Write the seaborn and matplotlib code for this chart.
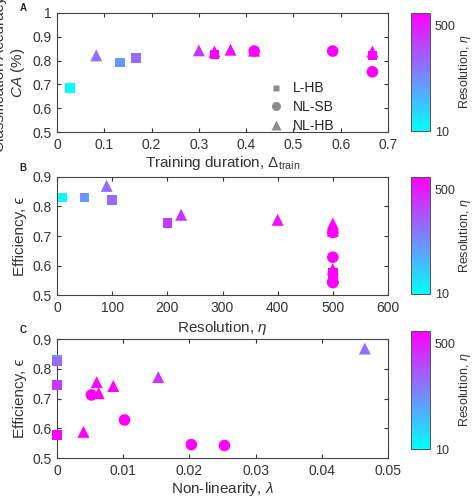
import numpy as np
import pandas as pd
import seaborn as sns
import matplotlib.pyplot as plt
from matplotlib.colors import LogNorm
from matplotlib.cm import ScalarMappable
from matplotlib.lines import Line2D

# panel A: training duration vs classification accuracy
a_type = ['L-HB', 'NL-HB', 'L-HB', 'L-HB', 'NL-HB', 'L-HB', 'NL-HB', 'NL-HB',
          'NL-HB', 'NL-SB', 'NL-SB', 'L-HB', 'NL-HB', 'NL-SB']
a_eta = [10, 90, 50, 100, 225, 500, 500, 400, 500, 500, 500, 500, 500, 500]
a_dur = [0.027, 0.083, 0.133, 0.167, 0.300, 0.333, 0.333, 0.367, 0.417, 0.417,
         0.583, 0.667, 0.667, 0.667]
a_ca = [0.685, 0.822, 0.792, 0.812, 0.843, 0.826, 0.838, 0.846, 0.842, 0.840,
        0.840, 0.822, 0.838, 0.753]

# panel B: resolution vs efficiency
b_type = ['L-HB', 'L-HB', 'NL-HB', 'L-HB', 'L-HB', 'NL-HB', 'NL-HB', 'NL-HB',
          'NL-HB', 'NL-SB', 'NL-SB', 'NL-HB', 'L-HB', 'NL-SB', 'NL-SB']
b_eta = [10, 50, 90, 100, 200, 225, 400, 500, 500, 500, 500, 500, 500, 500, 500]
b_eff = [0.830, 0.830, 0.870, 0.823, 0.745, 0.772, 0.755, 0.742, 0.718, 0.712,
         0.628, 0.588, 0.575, 0.545, 0.542]

# panel C: non-linearity vs efficiency
c_type = ['L-HB', 'L-HB', 'L-HB', 'L-HB', 'L-HB', 'NL-HB', 'NL-HB', 'NL-HB',
          'NL-HB', 'NL-HB', 'NL-HB', 'NL-SB', 'NL-SB', 'NL-SB', 'NL-SB']
c_eta = [10, 50, 100, 200, 500, 500, 400, 500, 500, 225, 90, 500, 500, 500, 500]
c_lam = [0.0, 0.0, 0.0, 0.0, 0.0, 0.0040, 0.0060, 0.0063, 0.0085, 0.0153, 0.0465,
         0.0052, 0.0102, 0.0203, 0.0253]
c_eff = [0.830, 0.830, 0.825, 0.745, 0.577, 0.588, 0.755, 0.718, 0.742, 0.772,
         0.868, 0.712, 0.628, 0.545, 0.542]

sns.set_style('white')
plt.rcParams['font.family'] = ['Liberation Sans', 'DejaVu Sans']
plt.rcParams['mathtext.fontset'] = 'custom'
plt.rcParams['mathtext.it'] = 'Liberation Sans:italic'
plt.rcParams['mathtext.rm'] = 'Liberation Sans'

markers = {'L-HB': 's', 'NL-SB': 'o', 'NL-HB': '^'}
sizes = {'L-HB': 48, 'NL-SB': 70, 'NL-HB': 75}
norm = LogNorm(10, 500)
TXT = '#333333'

W, H = 474, 498
fig = plt.figure(figsize=(W / 100, H / 100), dpi=100)


def px_axes(x0, y0, x1, y1):
    return fig.add_axes([x0 / W, 1 - y1 / H, (x1 - x0) / W, (y1 - y0) / H])


def draw(ax, x, y, types, etas):
    df = pd.DataFrame({'x': x, 'y': y, 'type': types, 'eta': etas})
    # one call per point keeps the drawing order of the original
    for _, row in df.iterrows():
        sns.scatterplot(x=[row['x']], y=[row['y']], ax=ax,
                        color=plt.cm.cool(norm(row['eta'])),
                        marker=markers[row['type']], s=sizes[row['type']],
                        edgecolor='none', legend=False, zorder=3, clip_on=False)


def style(ax):
    for sp in ax.spines.values():
        sp.set_color('#444444')
        sp.set_linewidth(0.8)
    ax.tick_params(direction='in', length=3, labelsize=10, colors=TXT,
                   top=True, right=True, bottom=True, left=True, pad=4)


def cbar(y0, y1):
    cax = px_axes(411, y0, 430, y1)
    sm = ScalarMappable(norm=LogNorm(10, 800), cmap='cool')
    cb = fig.colorbar(sm, cax=cax, ticks=[10, 500])
    cb.ax.set_yticklabels(['10', '500'])
    cb.ax.minorticks_off()
    cb.ax.tick_params(labelsize=9, length=0, colors=TXT)
    cb.outline.set_edgecolor('#555555')
    cb.outline.set_linewidth(0.7)
    fig.text(465 / W, 1 - (y0 + y1) / 2 / H, r'Resolution, $\eta$', rotation=90,
             ha='center', va='center', fontsize=9, color=TXT)


# A
ax1 = px_axes(57, 13, 388, 132)
draw(ax1, a_dur, a_ca, a_type, a_eta)
ax1.set_xlim(0, 0.7)
ax1.set_ylim(0.5, 1.0)
ax1.set_xticks(np.arange(0, 0.71, 0.1))
ax1.set_xticklabels(['0', '0.1', '0.2', '0.3', '0.4', '0.5', '0.6', '0.7'])
ax1.set_yticks([0.5, 0.6, 0.7, 0.8, 0.9, 1.0])
ax1.set_yticklabels(['0.5', '0.6', '0.7', '0.8', '0.9', '1'])
ax1.set_xlabel(r'Training duration, $\Delta_{\mathrm{train}}$', fontsize=11,
               color=TXT, labelpad=2)
ax1.set_ylabel('Classification Accuracy,\n$CA$ (%)', fontsize=11, color=TXT,
               linespacing=1.1)
style(ax1)
handles = [Line2D([], [], marker=markers[k], color='#8c8c8c', linestyle='none',
                  markersize=ms, markeredgecolor='none')
           for k, ms in [('L-HB', 5), ('NL-SB', 6.5), ('NL-HB', 7)]]
ax1.legend(handles, ['L-HB', 'NL-SB', 'NL-HB'], loc='upper left',
           bbox_to_anchor=(0.6, 0.53), frameon=False, fontsize=10,
           handletextpad=0.6, labelspacing=0.35, handlelength=1.2)
cbar(13, 131)

eps_label = 'Efficiency, \u03f5'

# B
ax2 = px_axes(57, 177, 388, 295)
draw(ax2, b_eta, b_eff, b_type, b_eta)
ax2.set_xlim(0, 600)
ax2.set_ylim(0.5, 0.9)
ax2.set_yticks([0.5, 0.6, 0.7, 0.8, 0.9])
ax2.set_xlabel(r'Resolution, $\eta$', fontsize=11, color=TXT, labelpad=3)
ax2.set_ylabel(eps_label, fontsize=11, color=TXT)
style(ax2)
cbar(177, 294)

# C
ax3 = px_axes(57, 339, 388, 458)
draw(ax3, c_lam, c_eff, c_type, c_eta)
ax3.set_xlim(0, 0.05)
ax3.set_ylim(0.5, 0.9)
ax3.set_xticks([0, 0.01, 0.02, 0.03, 0.04, 0.05])
ax3.set_xticklabels(['0', '0.01', '0.02', '0.03', '0.04', '0.05'])
ax3.set_yticks([0.5, 0.6, 0.7, 0.8, 0.9])
ax3.set_xlabel(r'Non-linearity, $\lambda$', fontsize=11, color=TXT, labelpad=1.5)
ax3.set_ylabel(eps_label, fontsize=11, color=TXT)
style(ax3)
cbar(331, 449)

for lab, y in [('A', 8), ('B', 168), ('C', 330)]:
    fig.text(23 / W, 1 - y / H, lab, fontsize=7, fontweight='bold', ha='center',
             va='center', color='#222222')

fig.savefig('out.png', dpi=100, facecolor='white')
